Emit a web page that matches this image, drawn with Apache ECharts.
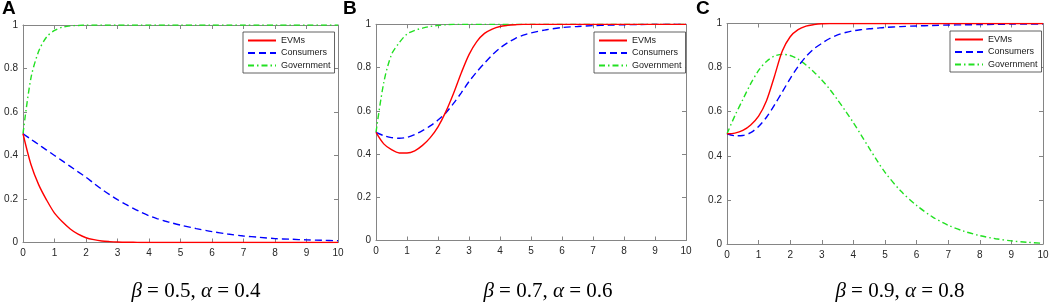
<!DOCTYPE html>
<html>
<head>
<meta charset="utf-8">
<script src="https://cdn.jsdelivr.net/npm/echarts@6/dist/echarts.min.js"></script>
<style>
  html, body { margin: 0; padding: 0; background: #fff; }
  #chart { width: 1052px; height: 302px; }
</style>
</head>
<body>
<div id="chart"></div>
<script>
// time grid shared by every curve
const T = [0, 0.25, 0.5, 0.75, 1, 1.25, 1.5, 1.75, 2, 2.25, 2.5, 2.75, 3, 3.25, 3.5, 3.75, 4, 4.25, 4.5, 4.75, 5, 5.5, 6, 6.5, 7, 7.5, 8, 8.5, 9, 9.5, 10];

// panel A  (beta 0.5, alpha 0.4)
const evmA = [0.5, 0.36, 0.265, 0.195, 0.135, 0.095, 0.062, 0.038, 0.022, 0.013, 0.007, 0.004, 0.002, 0.001, 0.001, 0, 0, 0, 0, 0, 0, 0, 0, 0, 0, 0, 0, 0, 0, 0, 0];
const conA = [0.5, 0.475, 0.45, 0.425, 0.4, 0.375, 0.35, 0.325, 0.3, 0.272, 0.245, 0.22, 0.197, 0.176, 0.157, 0.139, 0.123, 0.11, 0.099, 0.089, 0.08, 0.064, 0.05, 0.039, 0.03, 0.024, 0.018, 0.015, 0.012, 0.01, 0.008];
const govA = [0.5, 0.755, 0.88, 0.945, 0.975, 0.99, 0.996, 0.998, 1, 1, 1, 1, 1, 1, 1, 1, 1, 1, 1, 1, 1, 1, 1, 1, 1, 1, 1, 1, 1, 1, 1];

// panel B  (beta 0.7, alpha 0.6)
const evmB = [0.5, 0.447, 0.42, 0.405, 0.405, 0.415, 0.44, 0.476, 0.526, 0.595, 0.68, 0.775, 0.86, 0.92, 0.958, 0.978, 0.99, 0.995, 0.998, 1, 1, 1, 1, 1, 1, 1, 1, 1, 1, 1, 1];
const conB = [0.5, 0.485, 0.476, 0.473, 0.477, 0.49, 0.508, 0.53, 0.557, 0.59, 0.634, 0.683, 0.735, 0.78, 0.82, 0.858, 0.89, 0.915, 0.935, 0.95, 0.96, 0.975, 0.985, 0.99, 0.994, 0.996, 0.998, 0.999, 1, 1, 1];
const govB = [0.5, 0.73, 0.86, 0.915, 0.955, 0.972, 0.982, 0.99, 0.995, 0.998, 1, 1, 1, 1, 1, 1, 1, 1, 1, 1, 1, 1, 1, 1, 1, 1, 1, 1, 1, 1, 1];

// panel C  (beta 0.9, alpha 0.8)
const evmC = [0.5, 0.503, 0.515, 0.54, 0.58, 0.65, 0.76, 0.875, 0.94, 0.972, 0.988, 0.995, 0.999, 1, 1, 1, 1, 1, 1, 1, 1, 1, 1, 1, 1, 1, 1, 1, 1, 1, 1];
const conC = [0.5, 0.491, 0.492, 0.505, 0.533, 0.575, 0.63, 0.69, 0.75, 0.805, 0.85, 0.885, 0.91, 0.932, 0.948, 0.959, 0.967, 0.972, 0.976, 0.979, 0.982, 0.986, 0.989, 0.991, 0.993, 0.994, 0.995, 0.996, 0.997, 0.997, 0.998];
const govC = [0.5, 0.582, 0.655, 0.727, 0.787, 0.828, 0.852, 0.86, 0.855, 0.838, 0.812, 0.78, 0.744, 0.702, 0.654, 0.603, 0.55, 0.493, 0.435, 0.378, 0.325, 0.24, 0.175, 0.123, 0.085, 0.058, 0.038, 0.024, 0.014, 0.008, 0.003];

const seriesNames = ['EVMs', 'Consumers', 'Government'];
const panelLetters = ['A', 'B', 'C'];
const betaVals = ['0.5', '0.7', '0.9'];
const alphaVals = ['0.4', '0.6', '0.8'];
const panelData = [[evmA, conA, govA], [evmB, conB, govB], [evmC, conC, govC]];

// layout (pixels)
const boxes = [
  { left: 23, top: 25, width: 315, height: 217.5, legX: 243, legY: 32, letterX: 2, capX: 196 },
  { left: 376, top: 24.3, width: 310, height: 216.2, legX: 594, legY: 32, letterX: 343, capX: 548 },
  { left: 727, top: 23.5, width: 316, height: 220.5, legX: 950, legY: 31, letterX: 696, capX: 900 }
];
const lineStyles = [
  { color: '#ff0000', type: 'solid' },
  { color: '#0000ff', type: [7, 4] },
  { color: '#22e022', type: [6, 3, 1.5, 3] }
];
const axisGrey = '#858585';
const labelCol = '#262626';

const grid = [], xAxis = [], yAxis = [], series = [], legend = [], title = [];

boxes.forEach((b, p) => {
  grid.push({ left: b.left, top: b.top, width: b.width, height: b.height, containLabel: false });
  const common = {
    min: 0, axisLine: { show: true, onZero: false, lineStyle: { color: axisGrey, width: 1 } },
    axisTick: { show: true, inside: true, length: 4, lineStyle: { color: axisGrey } },
    splitLine: { show: false }
  };
  xAxis.push(Object.assign({}, common, {
    type: 'value', gridIndex: p, max: 10, interval: 1, position: 'bottom',
    axisLabel: { color: labelCol, fontSize: 10, fontFamily: 'Liberation Sans', margin: 6 }
  }));
  xAxis.push(Object.assign({}, common, {
    type: 'value', gridIndex: p, max: 10, interval: 1, position: 'top',
    axisLabel: { show: false }
  }));
  yAxis.push(Object.assign({}, common, {
    type: 'value', gridIndex: p, max: 1, interval: 0.2, position: 'left',
    axisLabel: { color: labelCol, fontSize: 10, fontFamily: 'Liberation Sans', margin: 5 }
  }));
  yAxis.push(Object.assign({}, common, {
    type: 'value', gridIndex: p, max: 1, interval: 0.2, position: 'right',
    axisLabel: { show: false }
  }));

  panelData[p].forEach((vals, s) => {
    series.push({
      name: seriesNames[s], type: 'line', xAxisIndex: p * 2, yAxisIndex: p * 2,
      data: T.map((t, i) => [t, vals[i]]),
      smooth: 0.3, symbol: 'none', z: 5 - s,
      lineStyle: { color: lineStyles[s].color, type: lineStyles[s].type, width: 1.4 },
      itemStyle: { color: lineStyles[s].color }
    });
  });

  legend.push({
    data: seriesNames, orient: 'vertical', left: b.legX, top: b.legY,
    itemWidth: 28, itemHeight: 10, itemGap: 3.5, padding: [4, 4, 3, 4],
    backgroundColor: '#fff', borderColor: '#3a3a3a', borderWidth: 0.8, borderRadius: 0,
    selectedMode: false,
    itemStyle: { opacity: 0 },
    textStyle: { color: '#1a1a1a', fontSize: 9, fontFamily: 'Liberation Sans' }
  });

  title.push({
    text: panelLetters[p], left: b.letterX, top: -1, padding: 0,
    textStyle: { fontFamily: 'Liberation Sans', fontWeight: 'bold', fontSize: 19, color: '#000' }
  });
  title.push({
    text: '{i|β} = ' + betaVals[p] + ', {i|α} = ' + alphaVals[p],
    left: b.capX, top: 281, textAlign: 'center', padding: 0,
    textStyle: {
      fontFamily: 'Liberation Serif', fontWeight: 'normal', fontSize: 21, color: '#000',
      rich: { i: { fontFamily: 'Liberation Serif', fontStyle: 'italic', fontSize: 21, color: '#000' } }
    }
  });
});

const mychart = echarts.init(document.getElementById('chart'), null, { renderer: 'canvas' });
mychart.setOption({
  animation: false,
  backgroundColor: '#fff',
  title, grid, xAxis, yAxis, legend, series
});
</script>
</body>
</html>
